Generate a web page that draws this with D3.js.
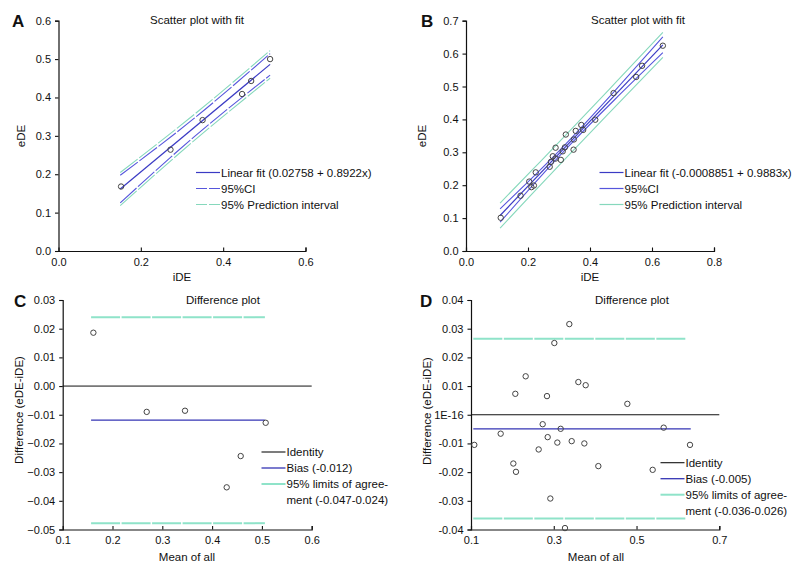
<!DOCTYPE html>
<html>
<head>
<meta charset="utf-8">
<script src="https://cdn.jsdelivr.net/npm/d3@7"></script>
<style>
  html, body { margin: 0; padding: 0; background: #fff; }
  svg { display: block; }
  text { font-family: 'Liberation Sans', Arial, sans-serif; fill: #111; }
</style>
</head>
<body>
<svg id="chart" width="800" height="573"></svg>
<script>
// ---------------- DATA ----------------
// Panel A: scatter with fit
const aIDE = [0.152, 0.272, 0.350, 0.446, 0.468, 0.514];
const aEDE = [0.168, 0.264, 0.341, 0.409, 0.443, 0.500];
const aFit = [0.02758, 0.8922];                 // intercept, slope
const aBandX = [0.15, 0.33, 0.514];
const aCIHalf = [0.036, 0.024, 0.028];
const aPIHalf = [0.043, 0.034, 0.036];
const aLegend = ["Linear fit (0.02758 + 0.8922x)", "95%CI", "95% Prediction interval"];

// Panel B: scatter with fit
const bIDE = [0.112, 0.176, 0.204, 0.211, 0.219, 0.225, 0.270, 0.274, 0.280, 0.289, 0.306, 0.289, 0.312,
              0.319, 0.347, 0.322, 0.348, 0.354, 0.378, 0.372, 0.417, 0.476, 0.549, 0.568, 0.635];
const bEDE = [0.101, 0.168, 0.211, 0.194, 0.199, 0.239, 0.256, 0.271, 0.288, 0.281, 0.277, 0.314, 0.303,
              0.315, 0.308, 0.354, 0.339, 0.365, 0.368, 0.383, 0.399, 0.480, 0.529, 0.563, 0.624];
const bFit = [-0.0008851, 0.9883];
const bBandX = [0.11, 0.22, 0.33, 0.48, 0.635];
const bCIHalf = [0.020, 0.012, 0.008, 0.013, 0.024];
const bPIHalf = [0.038, 0.036, 0.035, 0.036, 0.038];
const bLegend = ["Linear fit (-0.0008851 + 0.9883x)", "95%CI", "95% Prediction interval"];

// Panel C: difference plot
const cMean = [0.1616, 0.2687, 0.3456, 0.5076, 0.4574, 0.4293];
const cDiff = [0.0186, -0.0090, -0.0086, -0.0128, -0.0244, -0.0353];
const cBias = -0.0119;
const cLoA = [-0.0478, 0.0240];
const cLineRange = [0.157, 0.506];
const cLegend = ["Identity", "Bias (-0.012)", "95% limits of agree-", "ment (-0.047-0.024)"];

// Panel D: difference plot
const dMean = [0.108, 0.1717, 0.2023, 0.2087, 0.2071, 0.2321, 0.2635, 0.2732, 0.2836, 0.2853, 0.2917,
               0.3014, 0.3086, 0.3167, 0.3271, 0.3376, 0.3433, 0.3594, 0.3739, 0.3771, 0.4077, 0.4778,
               0.5390, 0.5656, 0.6292];
const dDiff = [-0.0105, -0.0066, -0.0170, -0.0199, 0.0073, 0.0134, -0.0121, -0.0033, 0.0065, -0.0078,
               -0.0292, 0.0250, -0.0097, -0.0049, -0.0395, 0.0316, -0.0092, 0.0114, -0.0100, 0.0103,
               -0.0179, 0.0038, -0.0192, -0.0045, -0.0105];
const dBias = -0.0049;
const dLoA = [-0.0362, 0.0265];
const dBiasRange = [0.1056, 0.631];
const dLoARange = [0.1056, 0.621];
const dLegend = ["Identity", "Bias (-0.005)", "95% limits of agree-", "ment (-0.036-0.026)"];

// Ticks
const aXTicks = [0.0, 0.2, 0.4, 0.6];
const aYTicks = [0.0, 0.1, 0.2, 0.3, 0.4, 0.5, 0.6];
const bXTicks = [0.0, 0.2, 0.4, 0.6, 0.8];
const bYTicks = [0.0, 0.1, 0.2, 0.3, 0.4, 0.5, 0.6, 0.7];
const cXTicks = [0.1, 0.2, 0.3, 0.4, 0.5, 0.6];
const cYTicks = [0.03, 0.02, 0.01, 0.00, -0.01, -0.02, -0.03, -0.04, -0.05];
const dXTicks = [0.1, 0.3, 0.5, 0.7];
const dYTicks = [0.04, 0.03, 0.02, 0.01, 0.0, -0.01, -0.02, -0.03, -0.04];
const dYTickLabels = ["0.04", "0.03", "0.02", "0.01", "1E-16", "-0.01", "-0.02", "-0.03", "-0.04"];

// ---------------- STYLE ----------------
const COL_FIT = "#3b3bc4";
const COL_CI = "#5656dc";
const COL_PI = "#86d8bc";
const COL_LOA = "#8fe3c9";
const COL_BIAS = "#3434b4";
const COL_PT = "#444";

const svg = d3.select("#chart");

function axes(g, x, y, xTicks, yTicks, xFmt, yFmt) {
  const ax = g.append("g").attr("transform", `translate(0,${y.range()[0]})`)
    .call(d3.axisBottom(x).tickValues(xTicks).tickFormat(xFmt).tickSize(-3.5).tickPadding(7));
  const ay = g.append("g").attr("transform", `translate(${x.range()[0]},0)`)
    .call(d3.axisLeft(y).tickValues(yTicks).tickFormat(yFmt).tickSize(3.5).tickPadding(4));
  [ax, ay].forEach(a => {
    a.select(".domain").attr("stroke", "#111").attr("stroke-width", 1.2);
    a.selectAll(".tick line").attr("stroke", "#111").attr("stroke-width", 1.1);
    a.selectAll(".tick text").attr("font-size", 11).attr("fill", "#111")
      .attr("font-family", "'Liberation Sans', Arial, sans-serif");
  });
  ax.selectAll(".tick").filter(d => d === x.domain()[0]).select("line").remove();
}

function labels(g, p) {
  g.append("text").attr("x", p.letter[0]).attr("y", p.letter[1]).text(p.letterText)
    .attr("font-size", 17).attr("font-weight", "bold");
  g.append("text").attr("x", p.title[0]).attr("y", p.title[1]).attr("text-anchor", "middle")
    .attr("font-size", 11.5).text(p.titleText);
  g.append("text").attr("x", p.xlab[0]).attr("y", p.xlab[1]).attr("text-anchor", "middle")
    .attr("font-size", 11.5).text(p.xlabText);
  g.append("text").attr("transform", `translate(${p.ylab[0]},${p.ylab[1]}) rotate(-90)`)
    .attr("text-anchor", "middle").attr("font-size", 11.5).text(p.ylabText);
}

function legend(g, x0, y0, items) {
  items.forEach((it, i) => {
    const yy = y0 + i * 16;
    if (it.color) {
      g.append("line").attr("x1", x0).attr("x2", x0 + 24).attr("y1", yy).attr("y2", yy)
        .attr("stroke", it.color).attr("stroke-width", it.w || 1.2)
        .attr("stroke-dasharray", it.dash || null);
    }
    g.append("text").attr("x", x0 + 25).attr("y", yy + 4).attr("font-size", 11.5).text(it.label);
  });
}

function points(g, x, y, xs, ys) {
  g.append("g").selectAll("circle").data(xs.map((v, i) => [v, ys[i]])).join("circle")
    .attr("cx", d => x(d[0])).attr("cy", d => y(d[1])).attr("r", 2.7)
    .attr("fill", "none").attr("stroke", COL_PT).attr("stroke-width", 1);
}

// ---------------- Scatter panels ----------------
function scatterPanel(cfg) {
  const g = svg.append("g");
  const x = d3.scaleLinear().domain(cfg.xDom).range(cfg.xRange);
  const y = d3.scaleLinear().domain(cfg.yDom).range(cfg.yRange);
  axes(g, x, y, cfg.xTicks, cfg.yTicks, d3.format(".1f"), d3.format(".1f"));
  const fit = v => cfg.fit[0] + cfg.fit[1] * v;
  const band = (half, sign) => cfg.bandX.map((v, i) => [v, fit(v) + sign * half[i]]);
  const line = d3.line().x(d => x(d[0])).y(d => y(d[1])).curve(d3.curveNatural);
  const draw = (pts, col, w, dash) => g.append("path").datum(pts).attr("d", line)
    .attr("fill", "none").attr("stroke", col).attr("stroke-width", w).attr("stroke-dasharray", dash || null);
  draw(band(cfg.pi, 1), COL_PI, 1.1, cfg.piDash);
  draw(band(cfg.pi, -1), COL_PI, 1.1, cfg.piDash);
  draw(band(cfg.ci, 1), COL_CI, 1.1, cfg.ciDash);
  draw(band(cfg.ci, -1), COL_CI, 1.1, cfg.ciDash);
  const ends = [cfg.bandX[0], cfg.bandX[cfg.bandX.length - 1]];
  draw(ends.map(v => [v, fit(v)]), COL_FIT, 1.2);
  points(g, x, y, cfg.xs, cfg.ys);
  legend(g, cfg.leg[0], cfg.leg[1], [
    { color: COL_FIT, label: cfg.legend[0] },
    { color: COL_CI, label: cfg.legend[1], dash: cfg.ciLegDash },
    { color: COL_PI, label: cfg.legend[2], dash: cfg.piLegDash }
  ]);
  labels(g, cfg.lab);
}

scatterPanel({
  xDom: [0, 0.6], xRange: [58.5, 305.5], yDom: [0, 0.6], yRange: [251, 20.7],
  xTicks: aXTicks, yTicks: aYTicks, fit: aFit, bandX: aBandX, ci: aCIHalf, pi: aPIHalf,
  ciDash: "22,2", piDash: "22,2", ciLegDash: "11,2", piLegDash: "11,2",
  xs: aIDE, ys: aEDE, leg: [196, 172.5], legend: aLegend,
  lab: { letter: [12, 27], letterText: "A", title: [197, 24], titleText: "Scatter plot with fit",
         xlab: [182, 281], xlabText: "iDE", ylab: [25, 136], ylabText: "eDE" }
});

scatterPanel({
  xDom: [0, 0.8], xRange: [466, 714], yDom: [0, 0.7], yRange: [251, 20.7],
  xTicks: bXTicks, yTicks: bYTicks, fit: bFit, bandX: bBandX, ci: bCIHalf, pi: bPIHalf,
  ciDash: null, piDash: null, ciLegDash: null, piLegDash: null,
  xs: bIDE, ys: bEDE, leg: [599.5, 172.5], legend: bLegend,
  lab: { letter: [421, 27], letterText: "B", title: [638, 24], titleText: "Scatter plot with fit",
         xlab: [590, 281], xlabText: "iDE", ylab: [426, 136], ylabText: "eDE" }
});

// ---------------- Difference panels ----------------
function diffPanel(cfg) {
  const g = svg.append("g");
  const x = d3.scaleLinear().domain(cfg.xDom).range(cfg.xRange);
  const y = d3.scaleLinear().domain(cfg.yDom).range(cfg.yRange);
  axes(g, x, y, cfg.xTicks, cfg.yTicks, d3.format(".1f"), cfg.yFmt);
  const hline = (x0, x1, v, col, w, dash) => g.append("line")
    .attr("x1", x(x0)).attr("x2", x(x1)).attr("y1", y(v)).attr("y2", y(v))
    .attr("stroke", col).attr("stroke-width", w).attr("stroke-dasharray", dash || null);
  hline(cfg.loaRange[0], cfg.loaRange[1], cfg.loa[1], COL_LOA, 2, "29,1.5");
  hline(cfg.loaRange[0], cfg.loaRange[1], cfg.loa[0], COL_LOA, 2, "29,1.5");
  hline(cfg.xDom[0], cfg.xDom[1], 0, "#111", 1);
  hline(cfg.biasRange[0], cfg.biasRange[1], cfg.bias, COL_BIAS, 1.3);
  points(g, x, y, cfg.xs, cfg.ys);
  legend(g, cfg.leg[0], cfg.leg[1], [
    { color: "#111", label: cfg.legend[0], w: 1.1 },
    { color: COL_BIAS, label: cfg.legend[1], w: 1.3 },
    { color: COL_LOA, label: cfg.legend[2], w: 2 },
    { color: null, label: cfg.legend[3] }
  ]);
  labels(g, cfg.lab);
}

diffPanel({
  xDom: [0.1, 0.6], xRange: [62.7, 311.7], yDom: [-0.05, 0.03], yRange: [529.5, 300],
  xTicks: cXTicks, yTicks: cYTicks, yFmt: d3.format(".2f"),
  xs: cMean, ys: cDiff, bias: cBias, loa: cLoA, biasRange: cLineRange, loaRange: cLineRange,
  leg: [261.5, 452], legend: cLegend,
  lab: { letter: [14, 307], letterText: "C", title: [223, 304], titleText: "Difference plot",
         xlab: [187, 561], xlabText: "Mean of all", ylab: [23, 410], ylabText: "Difference (eDE-iDE)" }
});

diffPanel({
  xDom: [0.1, 0.7], xRange: [471, 719.3], yDom: [-0.04, 0.04], yRange: [529.5, 300],
  xTicks: dXTicks, yTicks: dYTicks, yFmt: (d, i) => dYTickLabels[i],
  xs: dMean, ys: dDiff, bias: dBias, loa: dLoA, biasRange: dBiasRange, loaRange: dLoARange,
  leg: [660.5, 462.7], legend: dLegend,
  lab: { letter: [420, 307], letterText: "D", title: [632, 304], titleText: "Difference plot",
         xlab: [596, 561], xlabText: "Mean of all", ylab: [431, 411], ylabText: "Difference (eDE-iDE)" }
});
</script>
</body>
</html>
